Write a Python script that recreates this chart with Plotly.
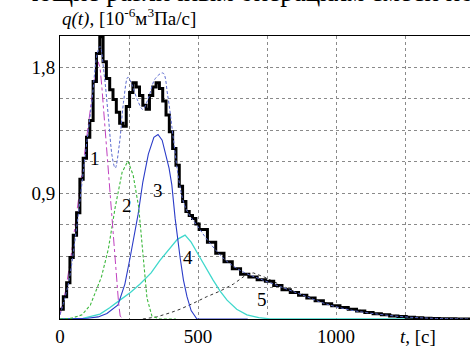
import plotly.graph_objects as go

# ---- data (t in s, q in 1e-6 m3 Pa/s) ----
t_total = [0, 12, 24, 36, 48, 60, 72, 84, 96, 108, 120, 132, 144, 156, 168, 180, 192, 204, 216, 228,
           240, 252, 264, 276, 288, 300, 312, 324, 336, 348, 360, 372, 384, 396, 408, 420, 432, 444,
           456, 468, 480, 492, 504, 534, 564, 594, 624, 654, 684, 714, 744, 774, 804, 834, 864, 894,
           924, 954, 984, 1014, 1044, 1074, 1104, 1134, 1164, 1194, 1224, 1254, 1284, 1314, 1344,
           1374, 1404, 1434, 1485]
q_total = [0.07, 0.16, 0.26, 0.44, 0.60, 0.76, 1.00, 1.15, 1.30, 1.42, 1.70, 1.90, 2.02, 1.84, 1.72,
           1.64, 1.57, 1.48, 1.40, 1.38, 1.52, 1.62, 1.69, 1.66, 1.60, 1.53, 1.50, 1.60, 1.66, 1.69,
           1.65, 1.56, 1.46, 1.34, 1.22, 1.10, 0.95, 0.84, 0.77, 0.74, 0.72, 0.68, 0.64, 0.55, 0.47,
           0.41, 0.36, 0.32, 0.30, 0.28, 0.27, 0.24, 0.21, 0.19, 0.17, 0.15, 0.13, 0.11, 0.095, 0.082,
           0.07, 0.058, 0.047, 0.038, 0.03, 0.022, 0.017, 0.013, 0.009, 0.006, 0.004, 0.002, 0.001,
           0.0, 0.0]

t_sum = [0, 30, 60, 90, 115, 135, 145, 160, 175, 190, 200, 215, 230, 246, 260, 280, 300, 320, 345,
         373, 390, 410, 430, 450, 470, 500, 540, 600, 660, 720, 800, 880, 960, 1050, 1150, 1250,
         1350, 1485]
q_sum = [0.03, 0.25, 0.65, 1.15, 1.55, 1.90, 1.95, 1.75, 1.45, 1.15, 1.08, 1.25, 1.55, 1.73, 1.68,
         1.57, 1.50, 1.58, 1.72, 1.76, 1.60, 1.30, 1.00, 0.82, 0.74, 0.66, 0.55, 0.42, 0.34, 0.29,
         0.23, 0.17, 0.11, 0.065, 0.035, 0.015, 0.005, 0.0]

t_c1 = [0, 20, 40, 60, 80, 100, 120, 138, 145, 152, 160, 168, 176, 185, 195, 205, 212, 218, 230]
q_c1 = [0.03, 0.20, 0.45, 0.75, 1.05, 1.35, 1.65, 1.84, 1.80, 1.65, 1.45, 1.20, 1.00, 0.80, 0.55,
        0.30, 0.12, 0.02, 0.0]

t_c2 = [0, 40, 80, 110, 150, 175, 200, 225, 246, 265, 285, 300, 315, 333, 360, 420]
q_c2 = [0.0, 0.005, 0.03, 0.10, 0.30, 0.50, 0.80, 1.05, 1.13, 1.03, 0.80, 0.45, 0.15, 0.02, 0.0, 0.0]

t_c3 = [0, 60, 100, 138, 170, 210, 235, 254, 270, 283, 300, 320, 340, 355, 370, 385, 395, 405, 417,
        435, 447, 460, 475, 496, 680]
q_c3 = [0.0, 0.0, 0.005, 0.015, 0.04, 0.10, 0.25, 0.44, 0.60, 0.75, 0.98, 1.18, 1.30, 1.32, 1.28,
        1.17, 1.08, 0.96, 0.72, 0.44, 0.28, 0.16, 0.06, 0.0, 0.0]

t_c4 = [0, 50, 83, 145, 180, 217, 255, 290, 330, 362, 395, 425, 453, 475, 507, 530, 554, 580, 605,
        640, 677, 720, 761, 1485]
q_c4 = [0.0, 0.0, 0.005, 0.035, 0.08, 0.135, 0.19, 0.25, 0.33, 0.42, 0.50, 0.57, 0.60, 0.55, 0.44,
        0.36, 0.28, 0.20, 0.135, 0.07, 0.03, 0.01, 0.0, 0.0]

t_c5 = [300, 350, 400, 435, 480, 532, 580, 628, 677, 700, 740, 780, 834, 894, 954, 1014, 1074, 1134,
        1194, 1254, 1314, 1374, 1434, 1485]
q_c5 = [0.0, 0.015, 0.045, 0.07, 0.11, 0.16, 0.20, 0.25, 0.32, 0.33, 0.30, 0.26, 0.21, 0.165, 0.12,
        0.09, 0.065, 0.045, 0.03, 0.018, 0.01, 0.005, 0.002, 0.0]

comp_labels = ["1", "2", "3", "4", "5"]
label_t = [127, 243, 355, 464, 732]
label_q = [1.15, 0.81, 0.92, 0.44, 0.14]

x_grid = [0, 250, 500, 750, 1000, 1250]
x_ticktext = ["0", "", "500", "", "1000", ""]
y_grid = [0, 0.225, 0.45, 0.675, 0.9, 1.125, 1.35, 1.575, 1.8]
y_ticktext = ["", "", "", "", "0,9", "", "", "", "1,8"]

FONT = "Liberation Serif, Times New Roman, serif"

fig = go.Figure()
fig.add_trace(go.Scatter(x=t_c5, y=q_c5, mode="lines",
                         line=dict(color="#333333", width=1, dash="dot")))
fig.add_trace(go.Scatter(x=t_c4, y=q_c4, mode="lines",
                         line=dict(color="#3fd8cc", width=1.3)))
fig.add_trace(go.Scatter(x=t_c3, y=q_c3, mode="lines",
                         line=dict(color="#2a3bc8", width=1.1)))
fig.add_trace(go.Scatter(x=t_c2, y=q_c2, mode="lines",
                         line=dict(color="#3cb83c", width=1.1, dash="3px,2px")))
fig.add_trace(go.Scatter(x=t_c1, y=q_c1, mode="lines",
                         line=dict(color="#c040c0", width=1, dash="dashdot")))
fig.add_trace(go.Scatter(x=t_total, y=q_total, mode="lines", line_shape="hv",
                         line=dict(color="black", width=3)))
fig.add_trace(go.Scatter(x=t_sum, y=q_sum, mode="lines", line_shape="spline",
                         line=dict(color="#5b6ad0", width=1, dash="3px,2px")))

for lab, lt, lq in zip(comp_labels, label_t, label_q):
    fig.add_annotation(x=lt, y=lq, text=lab, showarrow=False,
                       font=dict(family=FONT, size=19, color="black"))

fig.add_annotation(xref="x", yref="paper", x=1297, y=0, yanchor="top", yshift=-5,
                   text="<i>t</i>, [c]",
                   showarrow=False, font=dict(family=FONT, size=19, color="black"))
fig.add_annotation(xref="paper", yref="paper", x=0, y=1, xanchor="left", yanchor="bottom",
                   xshift=0, yshift=4,
                   text="<i>q(t)</i>, [10<sup>-6</sup>м<sup>3</sup>Па/с]", showarrow=False,
                   font=dict(family=FONT, size=19, color="black"))
fig.add_annotation(xref="paper", yref="paper", x=0.47, y=1, xanchor="center", yanchor="bottom",
                   yshift=27, text="ющие различным операциям смеси по", showarrow=False,
                   font=dict(family=FONT, size=27, color="black"))

fig.update_layout(
    width=470, height=347,
    margin=dict(l=60, r=0, t=36, b=25),
    paper_bgcolor="white", plot_bgcolor="white",
    showlegend=False,
    font=dict(family=FONT, size=19, color="black"),
)
fig.update_xaxes(range=[0, 1485], tickmode="array", tickvals=x_grid, ticktext=x_ticktext,
                 showgrid=True, gridcolor="#8a8a8a", griddash="dot", gridwidth=1,
                 showline=True, linecolor="black", linewidth=1, mirror=True,
                 zeroline=False, ticks="", tickfont=dict(family=FONT, size=19))
fig.update_yaxes(range=[0, 2.025], tickmode="array", tickvals=y_grid, ticktext=y_ticktext,
                 showgrid=True, gridcolor="#8a8a8a", griddash="dot", gridwidth=1,
                 showline=True, linecolor="black", linewidth=1, mirror=False,
                 zeroline=False, ticks="", tickfont=dict(family=FONT, size=19))

fig.write_html("out.html")
